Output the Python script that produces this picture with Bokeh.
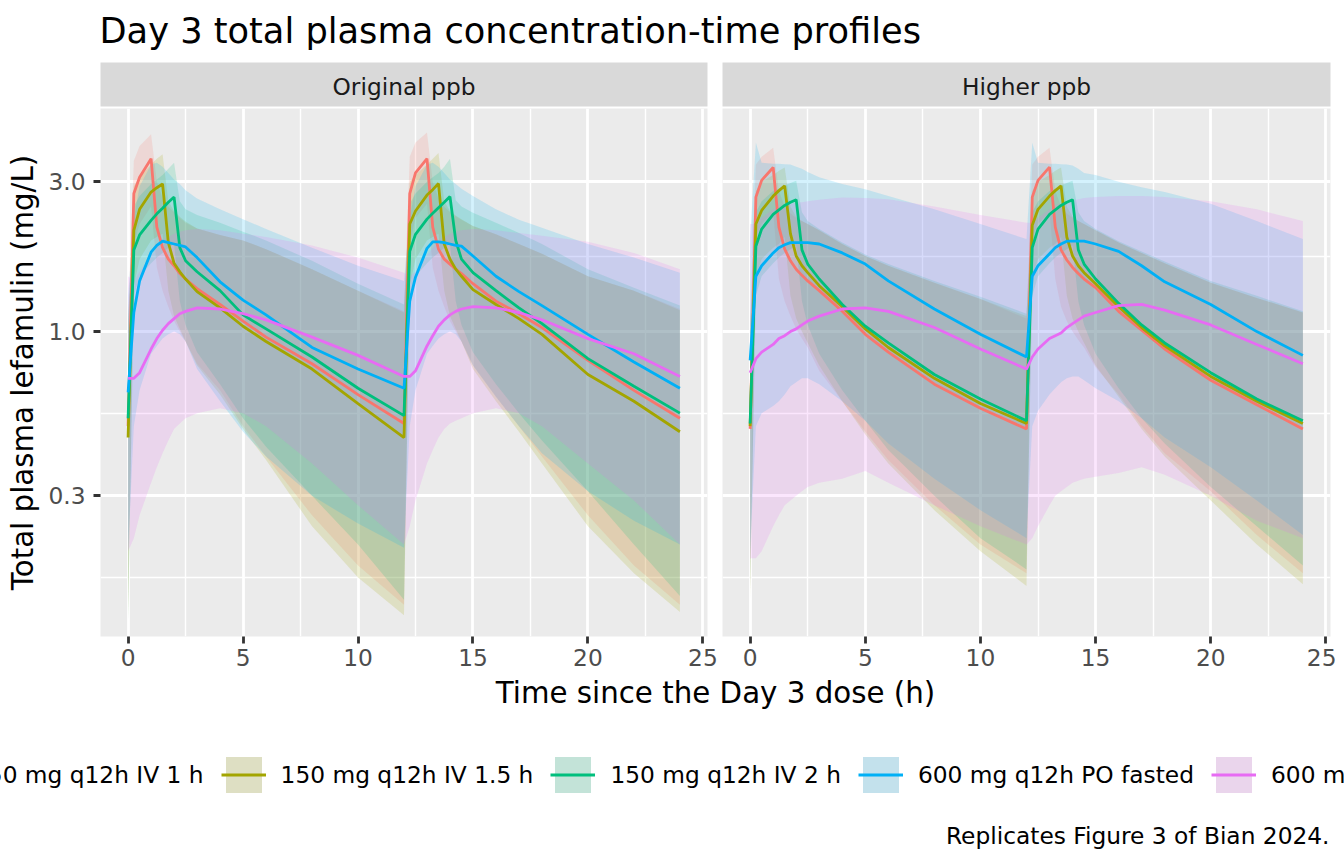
from bokeh.embed import file_html
from bokeh.layouts import column, row
from bokeh.models import (ColumnDataSource, FixedTicker, Label, Legend, LegendItem,
                          PrintfTickFormatter, Range1d)
from bokeh.plotting import figure
from bokeh.resources import INLINE

FONT = "DejaVu Sans"

# time since the Day 3 dose (h)
hours = [0, 0.25, 0.5, 1, 1.25, 1.5, 1.75, 2, 2.25, 2.5, 3, 4, 5, 6, 8, 10, 12,
         12.25, 12.5, 13, 13.25, 13.5, 13.75, 14, 14.25, 14.5, 15, 16, 17, 18, 20, 22, 24]

series_names = ["150 mg q12h IV 1 h", "150 mg q12h IV 1.5 h", "150 mg q12h IV 2 h",
                "600 mg q12h PO fasted", "600 mg q12h PO fed"]
series_colors = ["#F8766D", "#A3A500", "#00BF7D", "#00B0F6", "#E76BF3"]

y_ticks = [0.3, 1.0, 3.0]
y_minor = [0.1643, 0.548, 1.733]
x_ticks = [0, 5, 10, 15, 20, 25]
x_minor = [2.5, 7.5, 12.5, 17.5, 22.5]

# ---- Original ppb: median, lower and upper band (mg/L)
orig_iv1h_med = [0.50, 2.75, 3.10, 3.55, 2.15, 1.85, 1.70, 1.62, 1.53, 1.47, 1.37, 1.22, 1.08, 0.96, 0.79, 0.63, 0.51,
                 2.75, 3.20, 3.55, 2.15, 1.83, 1.70, 1.64, 1.58, 1.53, 1.42, 1.25, 1.14, 1.03, 0.81, 0.65, 0.53]
orig_iv1h_lo = [0.13, 1.90, 2.20, 2.50, 1.60, 1.35, 1.20, 1.08, 1.00, 0.93, 0.79, 0.65, 0.50, 0.40, 0.26, 0.18, 0.135,
                1.90, 2.30, 2.55, 1.60, 1.35, 1.20, 1.08, 1.00, 0.93, 0.78, 0.62, 0.50, 0.40, 0.26, 0.18, 0.135]
orig_iv1h_hi = [1.10, 3.50, 3.90, 4.25, 3.00, 2.65, 2.50, 2.40, 2.30, 2.22, 2.13, 2.03, 1.95, 1.83, 1.58, 1.35, 1.16,
                3.60, 4.00, 4.30, 3.00, 2.65, 2.50, 2.40, 2.33, 2.27, 2.17, 2.04, 1.90, 1.77, 1.50, 1.35, 1.18]

orig_iv15_med = [0.46, 2.10, 2.45, 2.78, 2.87, 2.95, 1.92, 1.65, 1.55, 1.47, 1.34, 1.19, 1.04, 0.93, 0.76, 0.59, 0.46,
                 2.20, 2.42, 2.72, 2.83, 2.96, 1.90, 1.70, 1.58, 1.50, 1.36, 1.22, 1.10, 0.98, 0.73, 0.60, 0.48]
orig_iv15_lo = [0.12, 1.40, 1.70, 1.95, 2.00, 2.05, 1.35, 1.12, 1.02, 0.93, 0.78, 0.63, 0.49, 0.39, 0.24, 0.165, 0.125,
                1.40, 1.70, 1.95, 2.00, 2.05, 1.35, 1.12, 1.02, 0.93, 0.76, 0.60, 0.48, 0.38, 0.24, 0.17, 0.128]
orig_iv15_hi = [1.05, 2.90, 3.10, 3.40, 3.55, 3.67, 2.60, 2.42, 2.32, 2.24, 2.13, 2.03, 1.95, 1.83, 1.58, 1.35, 1.15,
                3.00, 3.15, 3.40, 3.55, 3.70, 2.60, 2.42, 2.34, 2.28, 2.17, 2.04, 1.90, 1.77, 1.50, 1.35, 1.17]

orig_iv2h_med = [0.53, 1.82, 2.03, 2.26, 2.37, 2.47, 2.58, 2.68, 1.85, 1.68, 1.55, 1.35, 1.13, 1.02, 0.83, 0.66, 0.54,
                 1.80, 2.04, 2.28, 2.38, 2.48, 2.58, 2.69, 1.95, 1.70, 1.54, 1.35, 1.19, 1.06, 0.82, 0.67, 0.55]
orig_iv2h_lo = [0.12, 1.30, 1.50, 1.65, 1.72, 1.78, 1.85, 1.90, 1.25, 1.05, 0.86, 0.68, 0.53, 0.43, 0.30, 0.21, 0.14,
                1.30, 1.50, 1.65, 1.72, 1.78, 1.85, 1.90, 1.25, 1.05, 0.86, 0.68, 0.55, 0.45, 0.31, 0.21, 0.144]
orig_iv2h_hi = [1.10, 2.50, 2.70, 2.95, 3.05, 3.15, 3.30, 3.45, 2.60, 2.45, 2.35, 2.22, 2.08, 1.95, 1.68, 1.42, 1.22,
                2.55, 2.75, 3.00, 3.10, 3.20, 3.35, 3.55, 2.62, 2.50, 2.39, 2.22, 2.06, 1.90, 1.58, 1.38, 1.21]

orig_fast_med = [0.64, 1.15, 1.45, 1.79, 1.88, 1.94, 1.92, 1.90, 1.88, 1.86, 1.72, 1.44, 1.26, 1.13, 0.89, 0.76, 0.66,
                 1.25, 1.49, 1.84, 1.93, 1.93, 1.92, 1.90, 1.88, 1.87, 1.74, 1.50, 1.34, 1.21, 0.98, 0.80, 0.66]
orig_fast_lo = [0.20, 0.50, 0.65, 0.85, 0.90, 0.95, 0.98, 1.00, 0.98, 0.93, 0.76, 0.60, 0.48, 0.40, 0.30, 0.245, 0.205,
                0.50, 0.65, 0.85, 0.90, 0.95, 0.98, 1.00, 0.98, 0.93, 0.78, 0.62, 0.50, 0.41, 0.31, 0.25, 0.21]
orig_fast_hi = [1.30, 2.30, 2.90, 3.40, 3.45, 3.35, 3.20, 3.05, 2.95, 2.82, 2.65, 2.45, 2.28, 2.12, 1.85, 1.62, 1.45,
                2.30, 2.90, 3.40, 3.45, 3.35, 3.20, 3.05, 2.95, 2.85, 2.70, 2.45, 2.27, 2.14, 1.90, 1.72, 1.54]

orig_fed_med = [0.71, 0.71, 0.74, 0.88, 0.95, 1.01, 1.06, 1.10, 1.14, 1.16, 1.19, 1.18, 1.14, 1.09, 0.96, 0.84, 0.72,
                0.72, 0.75, 0.90, 0.97, 1.04, 1.09, 1.13, 1.16, 1.18, 1.20, 1.19, 1.15, 1.09, 0.95, 0.85, 0.72]
orig_fed_lo = [0.20, 0.22, 0.26, 0.33, 0.37, 0.41, 0.45, 0.49, 0.51, 0.53, 0.55, 0.57, 0.55, 0.50, 0.38, 0.28, 0.21,
               0.24, 0.29, 0.38, 0.42, 0.46, 0.49, 0.51, 0.52, 0.53, 0.55, 0.57, 0.55, 0.50, 0.38, 0.29, 0.21]
orig_fed_hi = [1.50, 1.45, 1.55, 1.75, 1.85, 1.95, 2.00, 2.05, 2.08, 2.10, 2.12, 2.10, 2.05, 2.00, 1.88, 1.72, 1.54,
               1.50, 1.55, 1.75, 1.85, 1.95, 2.00, 2.05, 2.08, 2.10, 2.12, 2.10, 2.06, 2.02, 1.93, 1.78, 1.58]

# ---- Higher ppb
high_iv1h_med = [0.49, 2.68, 3.03, 3.33, 2.15, 1.83, 1.68, 1.58, 1.51, 1.45, 1.35, 1.16, 0.98, 0.86, 0.68, 0.57, 0.49,
                 2.68, 3.03, 3.34, 2.15, 1.82, 1.69, 1.60, 1.53, 1.47, 1.38, 1.16, 1.01, 0.88, 0.70, 0.585, 0.49]
high_iv1h_lo = [0.15, 2.00, 2.20, 2.40, 1.47, 1.25, 1.12, 1.02, 0.95, 0.89, 0.75, 0.60, 0.48, 0.39, 0.28, 0.21, 0.17,
                2.00, 2.20, 2.40, 1.47, 1.20, 1.08, 1.00, 0.94, 0.89, 0.77, 0.63, 0.50, 0.41, 0.31, 0.225, 0.17]
high_iv1h_hi = [1.10, 3.40, 3.60, 3.85, 2.80, 2.50, 2.38, 2.30, 2.25, 2.20, 2.10, 1.90, 1.74, 1.62, 1.43, 1.27, 1.10,
                3.40, 3.60, 3.85, 2.80, 2.50, 2.38, 2.30, 2.25, 2.20, 2.10, 1.92, 1.78, 1.65, 1.43, 1.28, 1.15]

high_iv15_med = [0.50, 2.20, 2.43, 2.70, 2.81, 2.91, 2.05, 1.74, 1.62, 1.54, 1.40, 1.20, 1.02, 0.89, 0.71, 0.59, 0.51,
                 2.18, 2.45, 2.70, 2.81, 2.91, 2.00, 1.74, 1.62, 1.54, 1.42, 1.20, 1.03, 0.90, 0.72, 0.60, 0.51]
high_iv15_lo = [0.14, 1.50, 1.70, 1.85, 1.90, 2.00, 1.30, 1.10, 1.00, 0.92, 0.78, 0.60, 0.47, 0.38, 0.27, 0.20, 0.155,
                1.50, 1.70, 1.85, 1.90, 2.00, 1.30, 1.10, 1.00, 0.92, 0.78, 0.62, 0.49, 0.40, 0.29, 0.21, 0.157]
high_iv15_hi = [1.05, 2.80, 3.00, 3.15, 3.25, 3.33, 2.50, 2.32, 2.25, 2.20, 2.10, 1.90, 1.74, 1.62, 1.43, 1.27, 1.12,
                2.80, 3.00, 3.15, 3.25, 3.33, 2.50, 2.32, 2.25, 2.20, 2.10, 1.92, 1.78, 1.65, 1.43, 1.28, 1.15]

high_iv2h_med = [0.51, 1.87, 2.12, 2.36, 2.44, 2.52, 2.58, 2.63, 1.82, 1.64, 1.47, 1.22, 1.04, 0.92, 0.73, 0.61, 0.52,
                 1.85, 2.12, 2.36, 2.44, 2.52, 2.58, 2.63, 1.82, 1.64, 1.47, 1.23, 1.05, 0.92, 0.74, 0.61, 0.52]
high_iv2h_lo = [0.15, 1.30, 1.50, 1.65, 1.72, 1.78, 1.83, 1.88, 1.25, 1.05, 0.85, 0.65, 0.52, 0.42, 0.30, 0.22, 0.175,
                1.30, 1.50, 1.65, 1.72, 1.78, 1.83, 1.88, 1.25, 1.05, 0.85, 0.66, 0.53, 0.44, 0.32, 0.24, 0.18]
high_iv2h_hi = [1.05, 2.40, 2.60, 2.80, 2.85, 2.92, 2.97, 3.02, 2.40, 2.25, 2.12, 1.92, 1.76, 1.64, 1.45, 1.29, 1.14,
                2.40, 2.60, 2.80, 2.85, 2.92, 2.97, 3.02, 2.40, 2.25, 2.12, 1.94, 1.80, 1.67, 1.45, 1.30, 1.16]

high_fast_med = [0.81, 1.50, 1.62, 1.78, 1.85, 1.89, 1.92, 1.92, 1.92, 1.92, 1.90, 1.78, 1.64, 1.45, 1.18, 0.98, 0.83,
                 1.50, 1.62, 1.77, 1.85, 1.90, 1.94, 1.94, 1.94, 1.94, 1.90, 1.80, 1.62, 1.44, 1.22, 1.00, 0.84]
high_fast_lo = [0.20, 0.50, 0.55, 0.58, 0.60, 0.63, 0.67, 0.69, 0.71, 0.71, 0.68, 0.60, 0.52, 0.44, 0.34, 0.27, 0.22,
                0.50, 0.56, 0.63, 0.66, 0.69, 0.71, 0.72, 0.72, 0.70, 0.66, 0.60, 0.53, 0.46, 0.37, 0.29, 0.225]
high_fast_hi = [2.00, 4.00, 3.45, 3.42, 3.42, 3.41, 3.40, 3.35, 3.30, 3.22, 3.10, 2.95, 2.84, 2.70, 2.45, 2.20, 1.97,
                4.00, 3.45, 3.42, 3.42, 3.41, 3.40, 3.38, 3.30, 3.20, 3.15, 3.00, 2.88, 2.78, 2.55, 2.25, 1.97]

high_fed_med = [0.74, 0.82, 0.86, 0.91, 0.95, 0.97, 1.00, 1.02, 1.05, 1.08, 1.12, 1.18, 1.19, 1.16, 1.03, 0.88, 0.76,
                0.83, 0.88, 0.95, 0.97, 0.99, 1.03, 1.06, 1.09, 1.12, 1.15, 1.21, 1.22, 1.17, 1.05, 0.91, 0.79]
high_fed_lo = [0.19, 0.19, 0.20, 0.24, 0.26, 0.28, 0.29, 0.30, 0.31, 0.32, 0.33, 0.34, 0.36, 0.33, 0.28, 0.24, 0.21,
               0.22, 0.24, 0.28, 0.30, 0.31, 0.32, 0.33, 0.335, 0.34, 0.345, 0.355, 0.37, 0.35, 0.30, 0.25, 0.22]
high_fed_hi = [2.20, 2.20, 2.30, 2.45, 2.50, 2.53, 2.55, 2.57, 2.58, 2.60, 2.63, 2.67, 2.66, 2.64, 2.50, 2.35, 2.22,
               2.22, 2.30, 2.45, 2.52, 2.56, 2.60, 2.62, 2.64, 2.66, 2.68, 2.70, 2.70, 2.68, 2.60, 2.45, 2.25]

original_ppb = [(orig_iv1h_med, orig_iv1h_lo, orig_iv1h_hi),
                (orig_iv15_med, orig_iv15_lo, orig_iv15_hi),
                (orig_iv2h_med, orig_iv2h_lo, orig_iv2h_hi),
                (orig_fast_med, orig_fast_lo, orig_fast_hi),
                (orig_fed_med, orig_fed_lo, orig_fed_hi)]
higher_ppb = [(high_iv1h_med, high_iv1h_lo, high_iv1h_hi),
              (high_iv15_med, high_iv15_lo, high_iv15_hi),
              (high_iv2h_med, high_iv2h_lo, high_iv2h_hi),
              (high_fast_med, high_fast_lo, high_fast_hi),
              (high_fed_med, high_fed_lo, high_fed_hi)]

RIBBON_ALPHA = 0.17
LINE_W = 2.8
TOTAL_W = 1336
FOOT_W = 1344              # legend runs to the window edge, as in the original
LW, RW = 719, 617          # left / right column widths
PANEL_H, PANEL_BOTTOM = 568, 40
FOOT_H = 178


def blank(width, height, **kw):
    p = figure(width=width, height=height, x_range=Range1d(0, 1), y_range=Range1d(0, 1),
               x_axis_type=None, y_axis_type=None, output_backend="svg",
               toolbar_location=None, tools="", **kw)
    p.outline_line_color = None
    return p


def strip(text, width, left, right):
    s = blank(width, 46, min_border_left=left, min_border_right=right,
              min_border_top=0, min_border_bottom=2)
    s.background_fill_color = "#D9D9D9"
    s.add_layout(Label(x=0.5, y=0.464, text=text, text_align="center", text_baseline="middle",
                       text_font=FONT, text_font_size="23.3px", text_color="#1A1A1A"))
    return s


def panel(data, width, left, right, first):
    p = figure(width=width, height=PANEL_H, y_axis_type="log",
               x_range=Range1d(-1.2, 25.2), y_range=Range1d(0.107, 5.13),
               output_backend="svg", toolbar_location=None, tools="",
               min_border_left=left, min_border_right=right, min_border_top=0,
               min_border_bottom=PANEL_BOTTOM)
    p.background_fill_color = "#EBEBEB"
    p.border_fill_color = "white"
    p.outline_line_color = None

    p.xaxis.ticker = FixedTicker(ticks=x_ticks, minor_ticks=x_minor)
    p.yaxis.ticker = FixedTicker(ticks=y_ticks, minor_ticks=y_minor)
    p.xgrid.ticker = FixedTicker(ticks=x_ticks, minor_ticks=x_minor)
    p.ygrid.ticker = FixedTicker(ticks=y_ticks, minor_ticks=y_minor)
    p.yaxis.formatter = PrintfTickFormatter(format="%.1f")
    for g in (p.xgrid, p.ygrid):
        g.grid_line_color = "white"
        g.grid_line_width = 2.8
        g.minor_grid_line_color = "white"
        g.minor_grid_line_width = 1.4
    for ax in (p.xaxis, p.yaxis):
        ax.axis_line_color = None
        ax.minor_tick_line_color = None
        ax.major_tick_line_color = "#333333"
        ax.major_tick_line_width = 2.8
        ax.major_tick_out = 7
        ax.major_tick_in = 0
        ax.major_label_standoff = 5
        ax.major_label_text_font = FONT
        ax.major_label_text_font_size = "23.3px"
        ax.major_label_text_color = "#4D4D4D"
    if first:
        p.yaxis.major_label_standoff = 8
        p.yaxis.axis_label = "Total plasma lefamulin (mg/L)"
        p.yaxis.axis_label_text_font = FONT
        p.yaxis.axis_label_text_font_size = "29.3px"
        p.yaxis.axis_label_text_font_style = "normal"
        p.yaxis.axis_label_text_color = "black"
        p.yaxis.axis_label_standoff = 5
    else:
        p.yaxis.visible = False

    sources = [ColumnDataSource(dict(t=hours, med=m, lo=lo, hi=hi)) for m, lo, hi in data]
    for src, col in zip(sources, series_colors):
        p.varea(x="t", y1="lo", y2="hi", source=src, fill_color=col, fill_alpha=RIBBON_ALPHA)
    for src, col in zip(sources, series_colors):
        p.line(x="t", y="med", source=src, line_color=col, line_width=LINE_W)
    return p


# title
head = figure(width=TOTAL_W, height=62, x_range=Range1d(0, TOTAL_W), y_range=Range1d(0, 62),
              x_axis_type=None, y_axis_type=None, output_backend="svg",
              toolbar_location=None, tools="", min_border=0)
head.outline_line_color = None
head.add_layout(Label(x=99, y=32, text="Day 3 total plasma concentration-time profiles",
                      text_font=FONT, text_font_size="35.2px", text_color="black",
                      text_baseline="middle"))

strips = row(strip("Original ppb", LW, 100, 12), strip("Higher ppb", RW, 3, 6))
panels = row(panel(original_ppb, LW, 100, 12, True), panel(higher_ppb, RW, 3, 6, False))

# bottom: x title, legend, caption
foot = figure(width=FOOT_W, height=FOOT_H, x_range=Range1d(0, FOOT_W), y_range=Range1d(0, FOOT_H),
              x_axis_type=None, y_axis_type=None, output_backend="svg",
              toolbar_location=None, tools="", min_border=0)
foot.outline_line_color = None
foot.add_layout(Label(x=715, y=162, text="Time since the Day 3 dose (h)", text_align="center",
                      text_baseline="middle", text_font=FONT, text_font_size="29.3px",
                      text_color="black"))
foot.add_layout(Label(x=1329, y=19, text="Replicates Figure 3 of Bian 2024.", text_align="right",
                      text_baseline="middle", text_font=FONT, text_font_size="23.3px",
                      text_color="black"))

items = []
for (m, lo, hi), name, col in zip(original_ppb, series_names, series_colors):
    src = ColumnDataSource(dict(t=hours, med=m, lo=lo, hi=hi))
    bg = foot.varea(x="t", y1="lo", y2="hi", source=src, fill_color="#EBEBEB", visible=False)
    band = foot.varea(x="t", y1="lo", y2="hi", source=src, fill_color=col,
                      fill_alpha=RIBBON_ALPHA, visible=False)
    ln = foot.line(x="t", y="med", source=src, line_color=col, line_width=LINE_W, visible=False)
    items.append(LegendItem(label=name, renderers=[bg, band, ln]))

legend = Legend(items=items, orientation="horizontal", location=(-87, 57),
                glyph_width=45, glyph_height=45, label_standoff=15, spacing=17,
                padding=0, margin=0, border_line_color=None, background_fill_alpha=0,
                label_text_font=FONT, label_text_font_size="23.3px", label_text_color="black",
                label_text_baseline="middle")
foot.add_layout(legend, "center")

layout = column(head, strips, panels, foot)

open("out.html", "w").write(file_html(layout, INLINE))
